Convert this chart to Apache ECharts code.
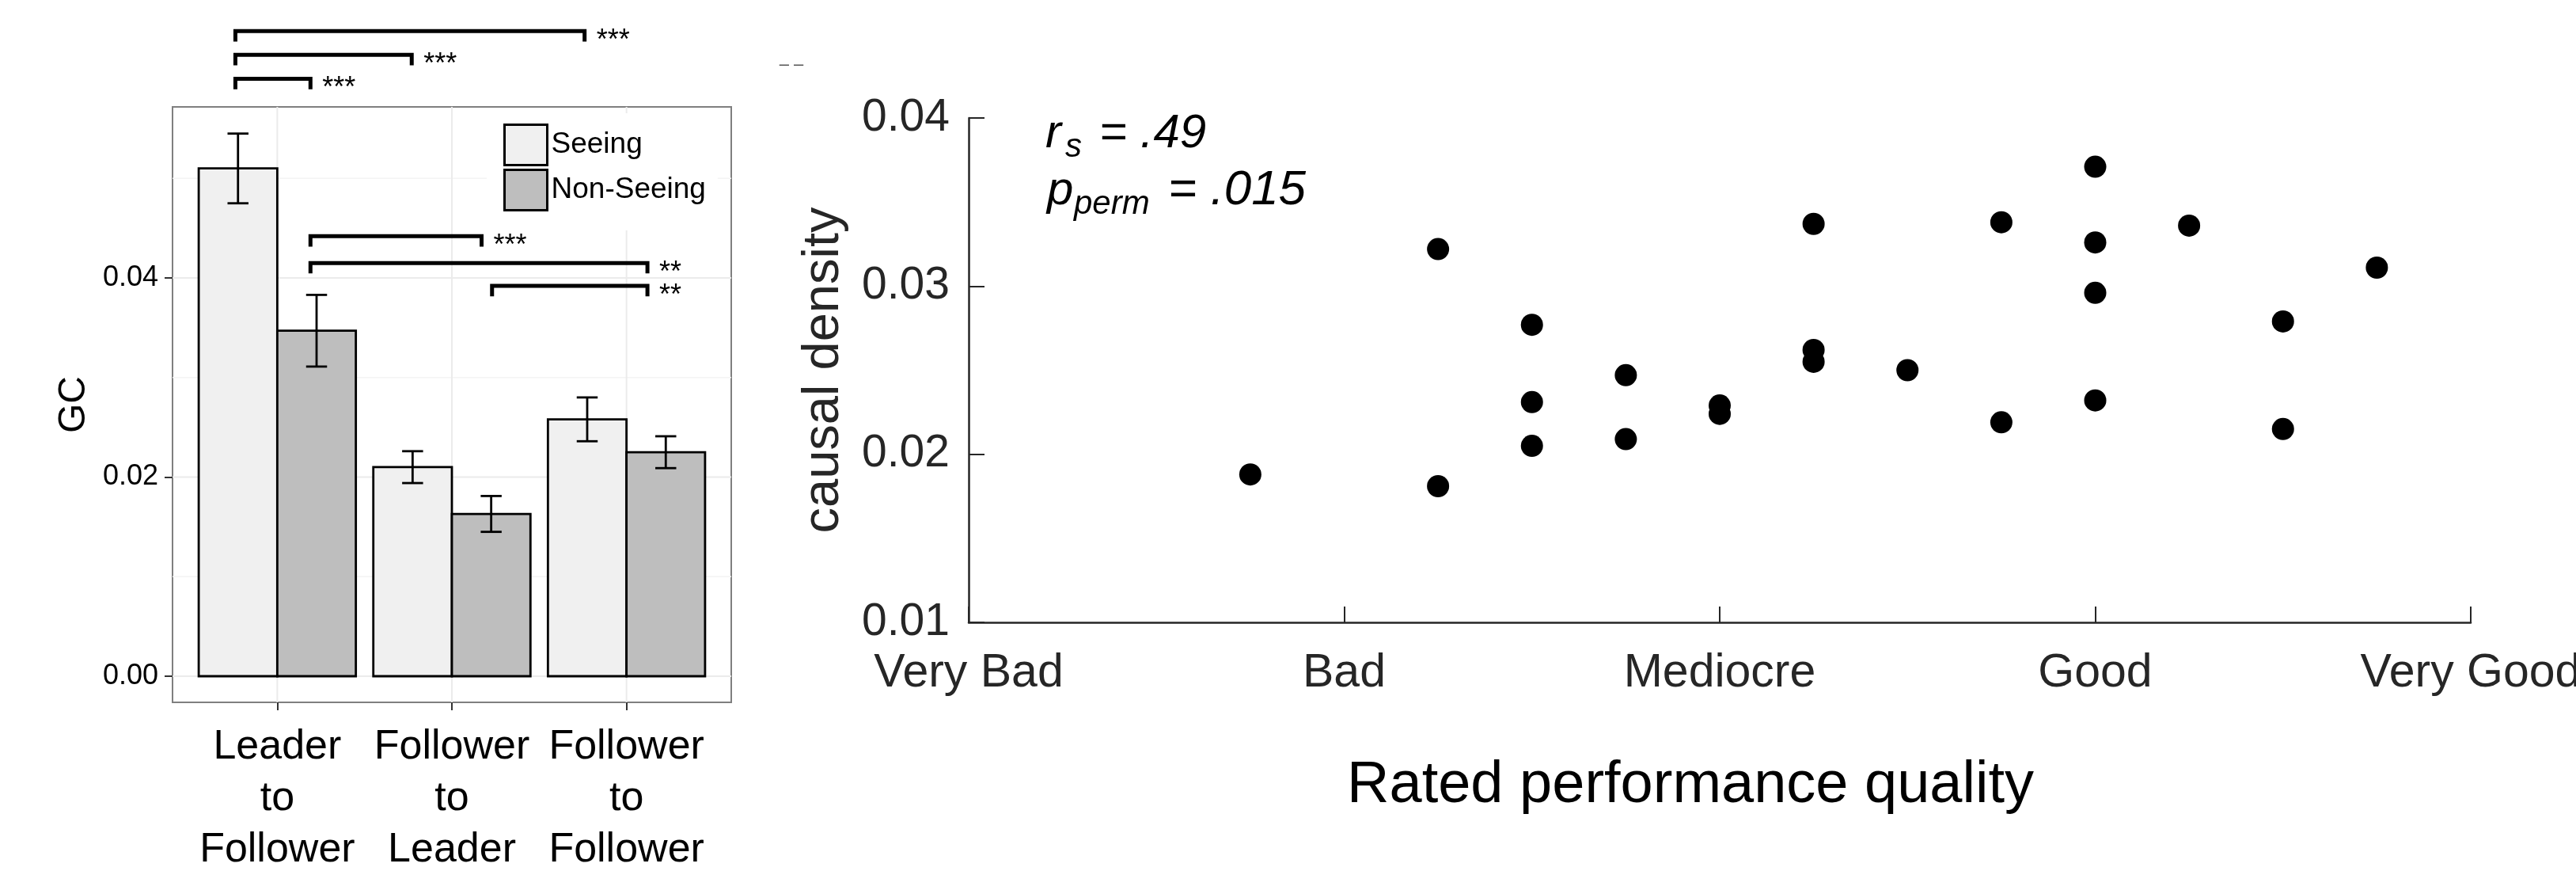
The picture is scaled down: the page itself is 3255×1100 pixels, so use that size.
<!DOCTYPE html>
<html><head><meta charset="utf-8">
<script src="https://cdn.jsdelivr.net/npm/echarts@6/dist/echarts.min.js"></script>
<style>html,body{margin:0;padding:0;background:#fff}#c{width:3255px;height:1100px}</style>
</head><body><div id="c"></div>
<script>
// ---------- Left panel: Granger causality by direction ----------
const groupCats = ['Leader to Follower', 'Follower to Leader', 'Follower to Follower'];
const seeingMean = [0.0510, 0.0210, 0.0258];
const seeingSE = [0.0035, 0.0016, 0.0022];
const nonSeeingMean = [0.0347, 0.0163, 0.0225];
const nonSeeingSE = [0.0036, 0.0018, 0.0016];
const gcTicks = [0, 0.02, 0.04];
const gcMinorTicks = [0.01, 0.03, 0.05];
const groupTicks = [1, 2, 3];
// significance brackets (x in group-axis units, height in GC units)
const bracketStart = [0.76, 0.76, 0.76, 1.19, 1.19, 2.23];
const bracketEnd = [2.76, 1.77, 1.19, 2.17, 3.12, 3.12];
const bracketHeight = [0.0648, 0.0624, 0.0600, 0.0442, 0.0415, 0.0392];
const bracketStars = ['***', '***', '***', '***', '**', '**'];

// ---------- Right panel: causal density vs rated quality ----------
const ratingLabels = ['Very Bad', 'Bad', 'Mediocre', 'Good', 'Very Good'];
const ratingX = [1.75, 2.25, 2.25, 2.5, 2.5, 2.5, 2.75, 2.75, 3.0, 3.0, 3.25, 3.25, 3.25, 3.5, 3.75, 3.75, 4.0, 4.0, 4.0, 4.0, 4.25, 4.5, 4.5, 4.75];
const causalDensity = [0.0188, 0.0322, 0.0181, 0.0277, 0.0231, 0.0205, 0.0247, 0.0209, 0.0229, 0.0224, 0.0337, 0.0262, 0.0255, 0.0250, 0.0338, 0.0219, 0.0371, 0.0326, 0.0296, 0.0232, 0.0336, 0.0279, 0.0215, 0.0311];

const FONT = "'Liberation Sans', Arial, Helvetica, sans-serif";
const SEEING_FILL = '#F0F0F0', NONSEEING_FILL = '#BEBEBE';
const HALF = 0.225, CAP = 0.06, LEG = 0.00105;

function barRenderer(offset, fill) {
  return function (params, api) {
    const xc = api.value(0) + offset, m = api.value(1), se = api.value(2);
    const tl = api.coord([xc - HALF, m]), br = api.coord([xc + HALF, 0]);
    const et = api.coord([xc, m + se]), eb = api.coord([xc, m - se]);
    const c1 = api.coord([xc - CAP, m + se]), c2 = api.coord([xc + CAP, m + se]);
    const c3 = api.coord([xc - CAP, m - se]), c4 = api.coord([xc + CAP, m - se]);
    const ls = { stroke: '#000', lineWidth: 2.8 };
    return { type: 'group', children: [
      { type: 'rect', shape: { x: tl[0], y: tl[1], width: br[0] - tl[0], height: br[1] - tl[1] }, style: { fill: fill, stroke: '#000', lineWidth: 2.8 } },
      { type: 'line', shape: { x1: et[0], y1: et[1], x2: eb[0], y2: eb[1] }, style: ls },
      { type: 'line', shape: { x1: c1[0], y1: c1[1], x2: c2[0], y2: c2[1] }, style: ls },
      { type: 'line', shape: { x1: c3[0], y1: c3[1], x2: c4[0], y2: c4[1] }, style: ls }
    ]};
  };
}

const gridLineData = []
  .concat(gcTicks.map(v => [0, v]))
  .concat(gcMinorTicks.map(v => [1, v]))
  .concat(groupTicks.map(v => [2, v]));

const chart = echarts.init(document.getElementById('c'), null, { renderer: 'canvas' });
chart.setOption({
  backgroundColor: '#fff',
  animation: false,
  textStyle: { fontFamily: FONT },
  grid: [
    { left: 218, top: 135, width: 706, height: 752, show: true, borderColor: '#7F7F7F', borderWidth: 2, backgroundColor: '#fff', outerBoundsMode: 'none', containLabel: false },
    { left: 1224, top: 149, width: 1898, height: 637, outerBoundsMode: 'none', containLabel: false }
  ],
  legend: {
    orient: 'vertical', left: 615, top: 143, padding: [13, 15, 24, 21],
    itemWidth: 54, itemHeight: 51, itemGap: 3, backgroundColor: '#fff',
    icon: 'rect', selectedMode: false,
    itemStyle: { borderColor: '#000', borderWidth: 3 },
    textStyle: { fontSize: 37, color: '#000', fontFamily: FONT },
    data: [
      { name: 'Seeing', itemStyle: { color: SEEING_FILL, borderColor: '#000', borderWidth: 3 } },
      { name: 'Non-Seeing', itemStyle: { color: NONSEEING_FILL, borderColor: '#000', borderWidth: 3 } }
    ]
  },
  xAxis: [
    {
      gridIndex: 0, type: 'value', min: 0.4, max: 3.6,
      axisLine: { show: false, onZero: false },
      axisTick: { show: true, customValues: groupTicks, length: 10, lineStyle: { color: '#333', width: 2 } },
      axisLabel: { customValues: groupTicks, formatter: v => groupCats[Math.round(v) - 1].split(' ').join('\n'),
        fontSize: 52, lineHeight: 65, color: '#000', margin: 24, fontFamily: FONT },
      splitLine: { show: false }
    },
    {
      gridIndex: 1, type: 'value', min: 1, max: 5, interval: 1,
      axisLine: { show: true, onZero: false, lineStyle: { color: '#262626', width: 2.5 } },
      axisTick: { show: true, inside: true, length: 20, lineStyle: { color: '#262626', width: 2 } },
      axisLabel: { formatter: v => ratingLabels[Math.round(v) - 1], fontSize: 59, color: '#262626', margin: 35, fontFamily: FONT },
      splitLine: { show: false }
    }
  ],
  yAxis: [
    {
      gridIndex: 0, type: 'value', min: -0.002624, max: 0.05718,
      axisLine: { show: false },
      axisTick: { show: true, customValues: gcTicks, length: 10, lineStyle: { color: '#333', width: 2 } },
      axisLabel: { customValues: gcTicks, formatter: v => v.toFixed(2), fontSize: 36, color: '#000', margin: 18, fontFamily: FONT, padding: [4, 0, 0, 0] },
      splitLine: { show: false },
      name: 'GC', nameLocation: 'middle', nameGap: 100, nameRotate: 90,
      nameTextStyle: { fontSize: 48, color: '#000', fontFamily: FONT }
    },
    {
      gridIndex: 1, type: 'value', min: 0.01, max: 0.04, interval: 0.01,
      axisLine: { show: true, lineStyle: { color: '#262626', width: 2.5 } },
      axisTick: { show: true, inside: true, length: 20, lineStyle: { color: '#262626', width: 2 } },
      axisLabel: { formatter: v => v.toFixed(2), fontSize: 57, color: '#262626', margin: 24, fontFamily: FONT, padding: [8, 0, 0, 0] },
      splitLine: { show: false },
      name: 'causal density', nameLocation: 'middle', nameGap: 150, nameRotate: 90,
      nameTextStyle: { fontSize: 65, color: '#262626', fontFamily: FONT }
    }
  ],
  series: [
    {
      type: 'custom', name: 'gridlines', xAxisIndex: 0, yAxisIndex: 0, z: 1, silent: true,
      data: gridLineData,
      renderItem: function (params, api) {
        const kind = api.value(0), v = api.value(1), cs = params.coordSys;
        if (kind === 2) {
          const p = api.coord([v, 0]);
          return { type: 'line', shape: { x1: p[0], y1: cs.y, x2: p[0], y2: cs.y + cs.height }, style: { stroke: '#EBEBEB', lineWidth: 2 } };
        }
        const p = api.coord([1, v]);
        return { type: 'line', shape: { x1: cs.x, y1: p[1], x2: cs.x + cs.width, y2: p[1] },
          style: { stroke: kind === 0 ? '#EBEBEB' : '#F4F4F4', lineWidth: kind === 0 ? 2 : 1.5 } };
      }
    },
    {
      type: 'custom', name: 'Seeing', xAxisIndex: 0, yAxisIndex: 0, z: 3, clip: false,
      itemStyle: { color: SEEING_FILL, borderColor: '#000', borderWidth: 2.5 },
      data: seeingMean.map((m, i) => [groupTicks[i], m, seeingSE[i]]),
      encode: { x: 0, y: 1 },
      renderItem: barRenderer(-HALF, SEEING_FILL)
    },
    {
      type: 'custom', name: 'Non-Seeing', xAxisIndex: 0, yAxisIndex: 0, z: 3, clip: false,
      itemStyle: { color: NONSEEING_FILL, borderColor: '#000', borderWidth: 2.5 },
      data: nonSeeingMean.map((m, i) => [groupTicks[i], m, nonSeeingSE[i]]),
      encode: { x: 0, y: 1 },
      renderItem: barRenderer(HALF, NONSEEING_FILL)
    },
    {
      type: 'custom', name: 'brackets', xAxisIndex: 0, yAxisIndex: 0, z: 6, clip: false, silent: true,
      data: bracketStart.map((s, i) => [s, bracketEnd[i], bracketHeight[i]]),
      encode: { x: [0, 1], y: 2 },
      renderItem: function (params, api) {
        const s = api.value(0), e = api.value(1), h = api.value(2);
        const p1 = api.coord([s, h - LEG]), p2 = api.coord([s, h]), p3 = api.coord([e, h]), p4 = api.coord([e, h - LEG]);
        return { type: 'group', children: [
          { type: 'polyline', shape: { points: [p1, p2, p3, p4] }, style: { stroke: '#000', lineWidth: 5, fill: null, lineJoin: 'miter' } },
          { type: 'text', x: p3[0] + 15, y: p3[1] + 13, style: { text: bracketStars[params.dataIndex], fontSize: 36, fontFamily: FONT, fill: '#000', align: 'left', verticalAlign: 'middle' } }
        ]};
      }
    },
    {
      type: 'scatter', name: 'ratings', xAxisIndex: 1, yAxisIndex: 1, symbol: 'circle', symbolSize: 28,
      itemStyle: { color: '#000', opacity: 1 },
      data: ratingX.map((x, i) => [x, causalDensity[i]])
    }
  ],
  graphic: [
    { type: 'text', x: 2136, y: 993, style: { text: 'Rated performance quality', fontSize: 74, fontFamily: FONT, fill: '#000', align: 'center', verticalAlign: 'middle' } },
    { type: 'text', x: 1321, y: 169, style: { text: 'r', fontSize: 60, fontStyle: 'italic', fontFamily: FONT, fill: '#000', align: 'left', verticalAlign: 'middle' } },
    { type: 'text', x: 1346, y: 186, style: { text: 's', fontSize: 42, fontStyle: 'italic', fontFamily: FONT, fill: '#000', align: 'left', verticalAlign: 'middle' } },
    { type: 'text', x: 1389, y: 169, style: { text: '= .49', fontSize: 60, fontStyle: 'italic', fontFamily: FONT, fill: '#000', align: 'left', verticalAlign: 'middle' } },
    { type: 'text', x: 1323, y: 241, style: { text: 'p', fontSize: 60, fontStyle: 'italic', fontFamily: FONT, fill: '#000', align: 'left', verticalAlign: 'middle' } },
    { type: 'text', x: 1357, y: 258, style: { text: 'perm', fontSize: 42, fontStyle: 'italic', fontFamily: FONT, fill: '#000', align: 'left', verticalAlign: 'middle' } },
    { type: 'text', x: 1476, y: 241, style: { text: '= .015', fontSize: 62, fontStyle: 'italic', fontFamily: FONT, fill: '#000', align: 'left', verticalAlign: 'middle' } },
    { type: 'text', x: 1000, y: 82, style: { text: '– –', fontSize: 22, fontFamily: FONT, fill: '#555', align: 'center', verticalAlign: 'middle' } }
  ]
});
</script>
</body></html>
